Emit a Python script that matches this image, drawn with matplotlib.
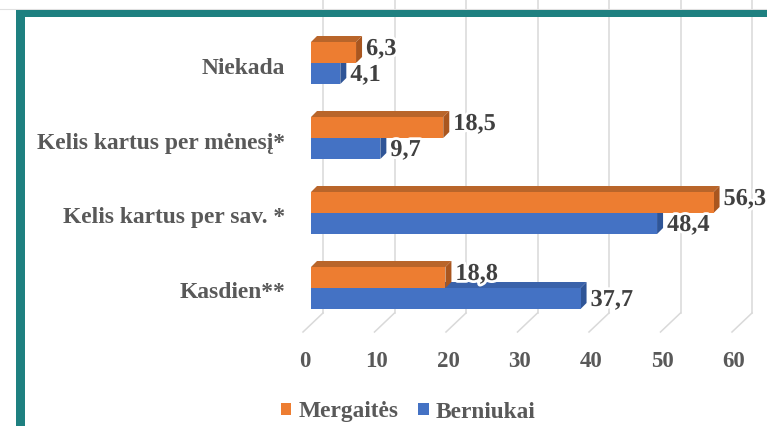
import matplotlib
matplotlib.use("Agg")
import matplotlib.pyplot as plt
import matplotlib.patheffects as pe
from matplotlib.patches import Polygon, Rectangle, Patch
from matplotlib.lines import Line2D
from matplotlib.transforms import IdentityTransform
import numpy as np

categories = ["Niekada", "Kelis kartus per mėnesį*", "Kelis kartus per sav. *", "Kasdien**"]
mergaites = [6.3, 18.5, 56.3, 18.8]
berniukai = [4.1, 9.7, 48.4, 37.7]
xticks = [0, 10, 20, 30, 40, 50, 60]
series_names = ["Mergaitės", "Berniukai"]

W, H = 767, 426
DPI = 100
fig = plt.figure(figsize=(W / DPI, H / DPI), dpi=DPI)
fig.patch.set_facecolor("white")

FONT = "Liberation Serif"
TXT = "#595959"
NUM = "#404040"

ax_left, ax_right, ax_top, ax_bot = 311, 754, 17, 324
ax = fig.add_axes([ax_left / W, 1 - ax_bot / H, (ax_right - ax_left) / W, (ax_bot - ax_top) / H])
scale = 7.15
ax.set_xlim(0, (ax_right - ax_left) / scale)
ax.set_ylim((ax_bot - 63) / 75, (ax_top - 63) / 75)
ax.axis("off")

BACK = np.array([12, 11])
FRONT = np.array([-8, -8])
BEV = np.array([6, 6])

fig.canvas.draw()
T = ax.transData
ymin_data = ax.get_ylim()[0]
ID = IdentityTransform()


def disp(x, y):
    return T.transform((x, y))


grid_c = "#D9D9D9"
for t in xticks:
    p0 = disp(t, ymin_data)
    pb = p0 + BACK
    pf = p0 + FRONT
    ax.add_line(Line2D([pb[0], pb[0]], [pb[1], H], transform=ID, color=grid_c, lw=1.1, zorder=1, clip_on=False))
    ax.add_line(Line2D([pf[0], pb[0]], [pf[1], pb[1]], transform=ID, color=grid_c, lw=1.1, zorder=1, clip_on=False))
    ax.annotate(str(t), xy=(t, ymin_data), xytext=(-6, -38), textcoords="offset pixels",
                ha="center", va="center", fontsize=16.5, fontweight="bold", family=FONT,
                color=TXT, annotation_clip=False)

bh = 21 / 75
colors = {
    "o": ("#ED7D31", "#B9652A", "#A9561F"),
    "b": ("#4472C4", "#3A62AA", "#2F5597"),
}


def bar3d(v, yc, cols, z):
    front, topc, side = cols
    y_top = yc - bh / 2
    y_bot = yc + bh / 2
    a = disp(0, y_top)
    b = disp(v, y_top)
    c = disp(v, y_bot)
    d = disp(0, y_bot)
    top = [a, b, b + BEV, a + BEV]
    sidep = [b, c, c + BEV, b + BEV]
    ax.add_patch(Polygon(top, closed=True, transform=ID, facecolor=topc, edgecolor="none", zorder=z, clip_on=False))
    ax.add_patch(Polygon(sidep, closed=True, transform=ID, facecolor=side, edgecolor="none", zorder=z, clip_on=False))
    ax.add_patch(Polygon([a, b, c, d], closed=True, transform=ID, facecolor=front, edgecolor="none",
                         zorder=z + 0.1, clip_on=False))


halo = [pe.withStroke(linewidth=4, foreground="white")]


def label(v, yc, dy, z):
    ax.annotate(f"{v:.1f}".replace(".", ","), xy=(v, yc), xytext=(10, dy), textcoords="offset pixels",
                ha="left", va="center", fontsize=17.5, fontweight="bold", family=FONT,
                color=NUM, annotation_clip=False, zorder=z, path_effects=halo)


for i, cat in enumerate(categories):
    yo = i - bh / 2
    yb = i + bh / 2
    bar3d(berniukai[i], yb, colors["b"], 3)
    bar3d(mergaites[i], yo, colors["o"], 4)
    label(mergaites[i], yo, 3, 3.5)
    label(berniukai[i], yb, -2, 6)
    ax.annotate(cat, xy=(0, i), xytext=(-26, -5), textcoords="offset pixels",
                ha="right", va="center", fontsize=16.9, fontweight="bold", family=FONT,
                color=TXT, annotation_clip=False)

handles = [Patch(facecolor="#ED7D31"), Patch(facecolor="#4472C4")]
leg = fig.legend(handles, series_names, loc="center", bbox_to_anchor=(408 / W, 1 - 412 / H),
                 ncol=2, frameon=False, handlelength=0.45, handleheight=0.45, handletextpad=0.3,
                 columnspacing=0.85, prop={"family": FONT, "weight": "bold", "size": 16.8})
for t in leg.get_texts():
    t.set_color(TXT)

teal = "#1E8080"
fig.add_artist(Rectangle((16 / W, 0), 9 / W, 1 - 10 / H, transform=fig.transFigure, facecolor=teal,
                         edgecolor="none", zorder=10))
fig.add_artist(Rectangle((16 / W, 1 - 17 / H), 1 - 16 / W, 7 / H, transform=fig.transFigure, facecolor=teal,
                         edgecolor="none", zorder=10))
fig.add_artist(Line2D([0, 1], [1 - 9 / H, 1 - 9 / H], transform=fig.transFigure, color="#E0E0E0", lw=0.8, zorder=9))

fig.savefig("out.png", dpi=DPI, facecolor="white")
